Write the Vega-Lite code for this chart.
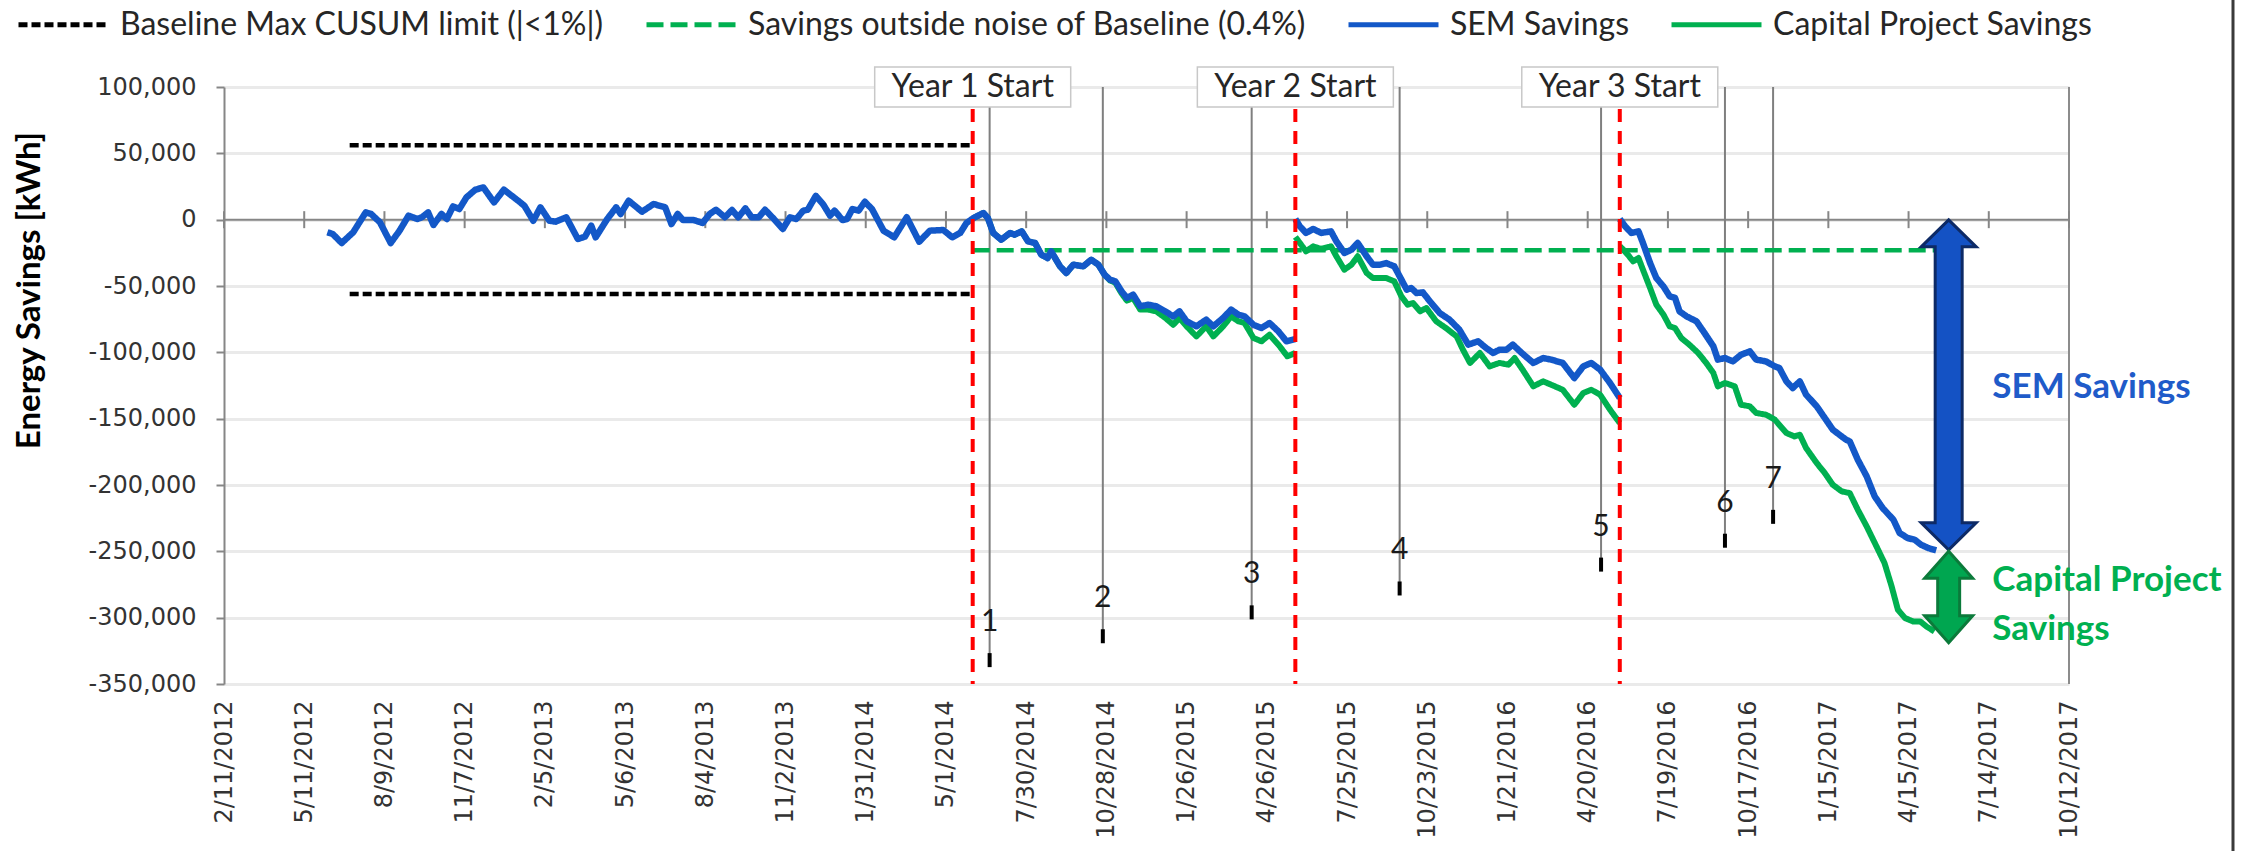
{
  "$schema": "https://vega.github.io/schema/vega-lite/v6.json",
  "width": 1845,
  "height": 597,
  "autosize": {"type": "none"},
  "padding": {"left": 224, "top": 87, "right": 180, "bottom": 167},
  "background": "white",
  "config": {
    "view": {"stroke": null},
    "font": "Lato",
    "legend": {
      "symbolType": "stroke",
      "symbolSize": 8100,
      "symbolStrokeWidth": 5,
      "labelFont": "Lato",
      "labelFontSize": 32,
      "labelColor": "#262626",
      "labelOffset": 9,
      "columnPadding": 32,
      "labelLimit": 1000,
      "padding": 0
    }
  },
  "datasets": {
    "curves": [
      {"date":"2012-06-06","v":-9500,"series":"SEM Savings","seg":"b1"},
      {"date":"2012-06-12","v":-10800,"series":"SEM Savings","seg":"b1"},
      {"date":"2012-06-22","v":-17600,"series":"SEM Savings","seg":"b1"},
      {"date":"2012-07-05","v":-9500,"series":"SEM Savings","seg":"b1"},
      {"date":"2012-07-19","v":5500,"series":"SEM Savings","seg":"b1"},
      {"date":"2012-07-25","v":4300,"series":"SEM Savings","seg":"b1"},
      {"date":"2012-08-04","v":-2000,"series":"SEM Savings","seg":"b1"},
      {"date":"2012-08-16","v":-17600,"series":"SEM Savings","seg":"b1"},
      {"date":"2012-08-26","v":-8300,"series":"SEM Savings","seg":"b1"},
      {"date":"2012-09-05","v":3000,"series":"SEM Savings","seg":"b1"},
      {"date":"2012-09-15","v":500,"series":"SEM Savings","seg":"b1"},
      {"date":"2012-09-20","v":1800,"series":"SEM Savings","seg":"b1"},
      {"date":"2012-09-27","v":5500,"series":"SEM Savings","seg":"b1"},
      {"date":"2012-10-03","v":-4000,"series":"SEM Savings","seg":"b1"},
      {"date":"2012-10-12","v":4300,"series":"SEM Savings","seg":"b1"},
      {"date":"2012-10-18","v":500,"series":"SEM Savings","seg":"b1"},
      {"date":"2012-10-25","v":10000,"series":"SEM Savings","seg":"b1"},
      {"date":"2012-11-01","v":8000,"series":"SEM Savings","seg":"b1"},
      {"date":"2012-11-09","v":16800,"series":"SEM Savings","seg":"b1"},
      {"date":"2012-11-19","v":22600,"series":"SEM Savings","seg":"b1"},
      {"date":"2012-11-28","v":24300,"series":"SEM Savings","seg":"b1"},
      {"date":"2012-12-10","v":13000,"series":"SEM Savings","seg":"b1"},
      {"date":"2012-12-21","v":22600,"series":"SEM Savings","seg":"b1"},
      {"date":"2013-01-06","v":14300,"series":"SEM Savings","seg":"b1"},
      {"date":"2013-01-13","v":10500,"series":"SEM Savings","seg":"b1"},
      {"date":"2013-01-23","v":-800,"series":"SEM Savings","seg":"b1"},
      {"date":"2013-01-31","v":9300,"series":"SEM Savings","seg":"b1"},
      {"date":"2013-02-10","v":-800,"series":"SEM Savings","seg":"b1"},
      {"date":"2013-02-17","v":-1500,"series":"SEM Savings","seg":"b1"},
      {"date":"2013-03-01","v":1800,"series":"SEM Savings","seg":"b1"},
      {"date":"2013-03-14","v":-14600,"series":"SEM Savings","seg":"b1"},
      {"date":"2013-03-22","v":-12800,"series":"SEM Savings","seg":"b1"},
      {"date":"2013-03-29","v":-4500,"series":"SEM Savings","seg":"b1"},
      {"date":"2013-04-03","v":-13300,"series":"SEM Savings","seg":"b1"},
      {"date":"2013-04-16","v":500,"series":"SEM Savings","seg":"b1"},
      {"date":"2013-04-26","v":9300,"series":"SEM Savings","seg":"b1"},
      {"date":"2013-05-01","v":4300,"series":"SEM Savings","seg":"b1"},
      {"date":"2013-05-10","v":14300,"series":"SEM Savings","seg":"b1"},
      {"date":"2013-05-25","v":6000,"series":"SEM Savings","seg":"b1"},
      {"date":"2013-06-07","v":11800,"series":"SEM Savings","seg":"b1"},
      {"date":"2013-06-20","v":9300,"series":"SEM Savings","seg":"b1"},
      {"date":"2013-06-27","v":-3300,"series":"SEM Savings","seg":"b1"},
      {"date":"2013-07-04","v":4300,"series":"SEM Savings","seg":"b1"},
      {"date":"2013-07-10","v":-300,"series":"SEM Savings","seg":"b1"},
      {"date":"2013-07-22","v":-300,"series":"SEM Savings","seg":"b1"},
      {"date":"2013-08-01","v":-2500,"series":"SEM Savings","seg":"b1"},
      {"date":"2013-08-09","v":4300,"series":"SEM Savings","seg":"b1"},
      {"date":"2013-08-16","v":7500,"series":"SEM Savings","seg":"b1"},
      {"date":"2013-08-26","v":1800,"series":"SEM Savings","seg":"b1"},
      {"date":"2013-09-03","v":7300,"series":"SEM Savings","seg":"b1"},
      {"date":"2013-09-10","v":1800,"series":"SEM Savings","seg":"b1"},
      {"date":"2013-09-18","v":8500,"series":"SEM Savings","seg":"b1"},
      {"date":"2013-09-25","v":1800,"series":"SEM Savings","seg":"b1"},
      {"date":"2013-10-03","v":1800,"series":"SEM Savings","seg":"b1"},
      {"date":"2013-10-10","v":7500,"series":"SEM Savings","seg":"b1"},
      {"date":"2013-10-20","v":500,"series":"SEM Savings","seg":"b1"},
      {"date":"2013-10-30","v":-7000,"series":"SEM Savings","seg":"b1"},
      {"date":"2013-11-07","v":1800,"series":"SEM Savings","seg":"b1"},
      {"date":"2013-11-14","v":500,"series":"SEM Savings","seg":"b1"},
      {"date":"2013-11-22","v":6800,"series":"SEM Savings","seg":"b1"},
      {"date":"2013-11-27","v":7500,"series":"SEM Savings","seg":"b1"},
      {"date":"2013-12-06","v":18000,"series":"SEM Savings","seg":"b1"},
      {"date":"2013-12-14","v":11800,"series":"SEM Savings","seg":"b1"},
      {"date":"2013-12-22","v":3000,"series":"SEM Savings","seg":"b1"},
      {"date":"2013-12-27","v":6800,"series":"SEM Savings","seg":"b1"},
      {"date":"2014-01-05","v":-300,"series":"SEM Savings","seg":"b1"},
      {"date":"2014-01-10","v":500,"series":"SEM Savings","seg":"b1"},
      {"date":"2014-01-16","v":8000,"series":"SEM Savings","seg":"b1"},
      {"date":"2014-01-23","v":6800,"series":"SEM Savings","seg":"b1"},
      {"date":"2014-01-30","v":13500,"series":"SEM Savings","seg":"b1"},
      {"date":"2014-02-07","v":8000,"series":"SEM Savings","seg":"b1"},
      {"date":"2014-02-20","v":-8300,"series":"SEM Savings","seg":"b1"},
      {"date":"2014-03-04","v":-13300,"series":"SEM Savings","seg":"b1"},
      {"date":"2014-03-18","v":1800,"series":"SEM Savings","seg":"b1"},
      {"date":"2014-04-01","v":-16600,"series":"SEM Savings","seg":"b1"},
      {"date":"2014-04-13","v":-8300,"series":"SEM Savings","seg":"b1"},
      {"date":"2014-04-28","v":-7800,"series":"SEM Savings","seg":"b1"},
      {"date":"2014-05-08","v":-13300,"series":"SEM Savings","seg":"b1"},
      {"date":"2014-05-17","v":-10000,"series":"SEM Savings","seg":"b1"},
      {"date":"2014-05-24","v":-2500,"series":"SEM Savings","seg":"b1"},
      {"date":"2014-06-01","v":1300,"series":"SEM Savings","seg":"b1"},
      {"date":"2014-06-12","v":5000,"series":"SEM Savings","seg":"b1"},
      {"date":"2014-06-17","v":1300,"series":"SEM Savings","seg":"b1"},
      {"date":"2014-06-23","v":-10000,"series":"SEM Savings","seg":"b1"},
      {"date":"2014-07-02","v":-15100,"series":"SEM Savings","seg":"b1"},
      {"date":"2014-07-12","v":-10000,"series":"SEM Savings","seg":"b1"},
      {"date":"2014-07-17","v":-11300,"series":"SEM Savings","seg":"b1"},
      {"date":"2014-07-25","v":-8800,"series":"SEM Savings","seg":"b1"},
      {"date":"2014-08-01","v":-16300,"series":"SEM Savings","seg":"b1"},
      {"date":"2014-08-09","v":-17600,"series":"SEM Savings","seg":"b1"},
      {"date":"2014-08-16","v":-26400,"series":"SEM Savings","seg":"b1"},
      {"date":"2014-08-23","v":-28900,"series":"SEM Savings","seg":"b1"},
      {"date":"2014-08-27","v":-23900,"series":"SEM Savings","seg":"b1"},
      {"date":"2014-09-06","v":-35200,"series":"SEM Savings","seg":"b1"},
      {"date":"2014-09-13","v":-40200,"series":"SEM Savings","seg":"b1"},
      {"date":"2014-09-21","v":-33900,"series":"SEM Savings","seg":"b1"},
      {"date":"2014-10-02","v":-35200,"series":"SEM Savings","seg":"b1"},
      {"date":"2014-10-11","v":-30200,"series":"SEM Savings","seg":"b1"},
      {"date":"2014-10-19","v":-33900,"series":"SEM Savings","seg":"b1"},
      {"date":"2014-10-26","v":-41500,"series":"SEM Savings","seg":"b1"},
      {"date":"2014-11-01","v":-45200,"series":"SEM Savings","seg":"b1"},
      {"date":"2014-11-07","v":-46500,"series":"SEM Savings","seg":"b1"},
      {"date":"2014-11-14","v":-54000,"series":"SEM Savings","seg":"b1"},
      {"date":"2014-11-20","v":-59000,"series":"SEM Savings","seg":"b1"},
      {"date":"2014-11-27","v":-56500,"series":"SEM Savings","seg":"b1"},
      {"date":"2014-12-05","v":-65300,"series":"SEM Savings","seg":"b1"},
      {"date":"2014-12-14","v":-64100,"series":"SEM Savings","seg":"b1"},
      {"date":"2014-12-23","v":-65300,"series":"SEM Savings","seg":"b1"},
      {"date":"2015-01-02","v":-69100,"series":"SEM Savings","seg":"b1"},
      {"date":"2015-01-11","v":-72900,"series":"SEM Savings","seg":"b1"},
      {"date":"2015-01-18","v":-69100,"series":"SEM Savings","seg":"b1"},
      {"date":"2015-01-26","v":-76600,"series":"SEM Savings","seg":"b1"},
      {"date":"2015-02-06","v":-80400,"series":"SEM Savings","seg":"b1"},
      {"date":"2015-02-17","v":-75400,"series":"SEM Savings","seg":"b1"},
      {"date":"2015-02-25","v":-80400,"series":"SEM Savings","seg":"b1"},
      {"date":"2015-03-08","v":-74100,"series":"SEM Savings","seg":"b1"},
      {"date":"2015-03-17","v":-67800,"series":"SEM Savings","seg":"b1"},
      {"date":"2015-03-25","v":-71600,"series":"SEM Savings","seg":"b1"},
      {"date":"2015-04-01","v":-72900,"series":"SEM Savings","seg":"b1"},
      {"date":"2015-04-11","v":-79200,"series":"SEM Savings","seg":"b1"},
      {"date":"2015-04-20","v":-81700,"series":"SEM Savings","seg":"b1"},
      {"date":"2015-04-29","v":-77900,"series":"SEM Savings","seg":"b1"},
      {"date":"2015-05-09","v":-84200,"series":"SEM Savings","seg":"b1"},
      {"date":"2015-05-18","v":-91700,"series":"SEM Savings","seg":"b1"},
      {"date":"2015-05-28","v":-90000,"series":"SEM Savings","seg":"b1"},
      {"date":"2015-05-28","v":500,"series":"SEM Savings","seg":"b2"},
      {"date":"2015-06-02","v":-5000,"series":"SEM Savings","seg":"b2"},
      {"date":"2015-06-09","v":-10000,"series":"SEM Savings","seg":"b2"},
      {"date":"2015-06-17","v":-7000,"series":"SEM Savings","seg":"b2"},
      {"date":"2015-06-26","v":-10000,"series":"SEM Savings","seg":"b2"},
      {"date":"2015-07-07","v":-8800,"series":"SEM Savings","seg":"b2"},
      {"date":"2015-07-13","v":-16300,"series":"SEM Savings","seg":"b2"},
      {"date":"2015-07-22","v":-25100,"series":"SEM Savings","seg":"b2"},
      {"date":"2015-07-30","v":-22600,"series":"SEM Savings","seg":"b2"},
      {"date":"2015-08-06","v":-17600,"series":"SEM Savings","seg":"b2"},
      {"date":"2015-08-16","v":-27600,"series":"SEM Savings","seg":"b2"},
      {"date":"2015-08-23","v":-33900,"series":"SEM Savings","seg":"b2"},
      {"date":"2015-08-31","v":-33900,"series":"SEM Savings","seg":"b2"},
      {"date":"2015-09-07","v":-32700,"series":"SEM Savings","seg":"b2"},
      {"date":"2015-09-16","v":-35200,"series":"SEM Savings","seg":"b2"},
      {"date":"2015-09-24","v":-45200,"series":"SEM Savings","seg":"b2"},
      {"date":"2015-09-30","v":-52800,"series":"SEM Savings","seg":"b2"},
      {"date":"2015-10-05","v":-51500,"series":"SEM Savings","seg":"b2"},
      {"date":"2015-10-11","v":-55300,"series":"SEM Savings","seg":"b2"},
      {"date":"2015-10-18","v":-54800,"series":"SEM Savings","seg":"b2"},
      {"date":"2015-10-26","v":-61600,"series":"SEM Savings","seg":"b2"},
      {"date":"2015-11-06","v":-70400,"series":"SEM Savings","seg":"b2"},
      {"date":"2015-11-17","v":-75400,"series":"SEM Savings","seg":"b2"},
      {"date":"2015-11-28","v":-82900,"series":"SEM Savings","seg":"b2"},
      {"date":"2015-12-08","v":-94200,"series":"SEM Savings","seg":"b2"},
      {"date":"2015-12-19","v":-91700,"series":"SEM Savings","seg":"b2"},
      {"date":"2015-12-28","v":-96700,"series":"SEM Savings","seg":"b2"},
      {"date":"2016-01-05","v":-100500,"series":"SEM Savings","seg":"b2"},
      {"date":"2016-01-12","v":-98000,"series":"SEM Savings","seg":"b2"},
      {"date":"2016-01-20","v":-98000,"series":"SEM Savings","seg":"b2"},
      {"date":"2016-01-27","v":-94200,"series":"SEM Savings","seg":"b2"},
      {"date":"2016-02-06","v":-100500,"series":"SEM Savings","seg":"b2"},
      {"date":"2016-02-19","v":-108000,"series":"SEM Savings","seg":"b2"},
      {"date":"2016-03-01","v":-104300,"series":"SEM Savings","seg":"b2"},
      {"date":"2016-03-10","v":-105500,"series":"SEM Savings","seg":"b2"},
      {"date":"2016-03-23","v":-108000,"series":"SEM Savings","seg":"b2"},
      {"date":"2016-04-05","v":-119400,"series":"SEM Savings","seg":"b2"},
      {"date":"2016-04-15","v":-110600,"series":"SEM Savings","seg":"b2"},
      {"date":"2016-04-24","v":-108000,"series":"SEM Savings","seg":"b2"},
      {"date":"2016-05-04","v":-113100,"series":"SEM Savings","seg":"b2"},
      {"date":"2016-05-15","v":-123100,"series":"SEM Savings","seg":"b2"},
      {"date":"2016-05-26","v":-134400,"series":"SEM Savings","seg":"b2"},
      {"date":"2016-05-26","v":500,"series":"SEM Savings","seg":"b3"},
      {"date":"2016-06-01","v":-5000,"series":"SEM Savings","seg":"b3"},
      {"date":"2016-06-08","v":-10000,"series":"SEM Savings","seg":"b3"},
      {"date":"2016-06-16","v":-8800,"series":"SEM Savings","seg":"b3"},
      {"date":"2016-06-21","v":-17600,"series":"SEM Savings","seg":"b3"},
      {"date":"2016-06-29","v":-32700,"series":"SEM Savings","seg":"b3"},
      {"date":"2016-07-06","v":-44000,"series":"SEM Savings","seg":"b3"},
      {"date":"2016-07-14","v":-50300,"series":"SEM Savings","seg":"b3"},
      {"date":"2016-07-21","v":-57800,"series":"SEM Savings","seg":"b3"},
      {"date":"2016-07-27","v":-59000,"series":"SEM Savings","seg":"b3"},
      {"date":"2016-08-01","v":-69100,"series":"SEM Savings","seg":"b3"},
      {"date":"2016-08-09","v":-72900,"series":"SEM Savings","seg":"b3"},
      {"date":"2016-08-20","v":-76600,"series":"SEM Savings","seg":"b3"},
      {"date":"2016-08-29","v":-85400,"series":"SEM Savings","seg":"b3"},
      {"date":"2016-09-08","v":-95500,"series":"SEM Savings","seg":"b3"},
      {"date":"2016-09-13","v":-105500,"series":"SEM Savings","seg":"b3"},
      {"date":"2016-09-21","v":-104300,"series":"SEM Savings","seg":"b3"},
      {"date":"2016-09-30","v":-106800,"series":"SEM Savings","seg":"b3"},
      {"date":"2016-10-09","v":-101800,"series":"SEM Savings","seg":"b3"},
      {"date":"2016-10-19","v":-99300,"series":"SEM Savings","seg":"b3"},
      {"date":"2016-10-26","v":-105500,"series":"SEM Savings","seg":"b3"},
      {"date":"2016-11-06","v":-106800,"series":"SEM Savings","seg":"b3"},
      {"date":"2016-11-16","v":-110600,"series":"SEM Savings","seg":"b3"},
      {"date":"2016-11-21","v":-111800,"series":"SEM Savings","seg":"b3"},
      {"date":"2016-11-29","v":-121900,"series":"SEM Savings","seg":"b3"},
      {"date":"2016-12-06","v":-126900,"series":"SEM Savings","seg":"b3"},
      {"date":"2016-12-14","v":-121900,"series":"SEM Savings","seg":"b3"},
      {"date":"2016-12-21","v":-131900,"series":"SEM Savings","seg":"b3"},
      {"date":"2017-01-02","v":-140700,"series":"SEM Savings","seg":"b3"},
      {"date":"2017-01-11","v":-149500,"series":"SEM Savings","seg":"b3"},
      {"date":"2017-01-20","v":-158300,"series":"SEM Savings","seg":"b3"},
      {"date":"2017-01-30","v":-163400,"series":"SEM Savings","seg":"b3"},
      {"date":"2017-02-04","v":-165900,"series":"SEM Savings","seg":"b3"},
      {"date":"2017-02-08","v":-167100,"series":"SEM Savings","seg":"b3"},
      {"date":"2017-02-17","v":-180900,"series":"SEM Savings","seg":"b3"},
      {"date":"2017-02-27","v":-193500,"series":"SEM Savings","seg":"b3"},
      {"date":"2017-03-08","v":-208600,"series":"SEM Savings","seg":"b3"},
      {"date":"2017-03-17","v":-217400,"series":"SEM Savings","seg":"b3"},
      {"date":"2017-03-29","v":-226200,"series":"SEM Savings","seg":"b3"},
      {"date":"2017-04-05","v":-236200,"series":"SEM Savings","seg":"b3"},
      {"date":"2017-04-14","v":-240000,"series":"SEM Savings","seg":"b3"},
      {"date":"2017-04-22","v":-241300,"series":"SEM Savings","seg":"b3"},
      {"date":"2017-04-29","v":-245000,"series":"SEM Savings","seg":"b3"},
      {"date":"2017-05-07","v":-247500,"series":"SEM Savings","seg":"b3"},
      {"date":"2017-05-16","v":-249300,"series":"SEM Savings","seg":"b3"},
      {"date":"2014-06-01","v":1300,"series":"Capital Project Savings","seg":"g1"},
      {"date":"2014-06-12","v":5000,"series":"Capital Project Savings","seg":"g1"},
      {"date":"2014-06-17","v":1300,"series":"Capital Project Savings","seg":"g1"},
      {"date":"2014-06-23","v":-10000,"series":"Capital Project Savings","seg":"g1"},
      {"date":"2014-07-02","v":-15100,"series":"Capital Project Savings","seg":"g1"},
      {"date":"2014-07-12","v":-10000,"series":"Capital Project Savings","seg":"g1"},
      {"date":"2014-07-17","v":-11300,"series":"Capital Project Savings","seg":"g1"},
      {"date":"2014-07-25","v":-8800,"series":"Capital Project Savings","seg":"g1"},
      {"date":"2014-08-01","v":-16300,"series":"Capital Project Savings","seg":"g1"},
      {"date":"2014-08-09","v":-17600,"series":"Capital Project Savings","seg":"g1"},
      {"date":"2014-08-16","v":-26400,"series":"Capital Project Savings","seg":"g1"},
      {"date":"2014-08-23","v":-28900,"series":"Capital Project Savings","seg":"g1"},
      {"date":"2014-08-27","v":-23900,"series":"Capital Project Savings","seg":"g1"},
      {"date":"2014-09-06","v":-35200,"series":"Capital Project Savings","seg":"g1"},
      {"date":"2014-09-13","v":-40200,"series":"Capital Project Savings","seg":"g1"},
      {"date":"2014-09-21","v":-33900,"series":"Capital Project Savings","seg":"g1"},
      {"date":"2014-10-02","v":-35200,"series":"Capital Project Savings","seg":"g1"},
      {"date":"2014-10-11","v":-30200,"series":"Capital Project Savings","seg":"g1"},
      {"date":"2014-10-19","v":-33900,"series":"Capital Project Savings","seg":"g1"},
      {"date":"2014-10-26","v":-41500,"series":"Capital Project Savings","seg":"g1"},
      {"date":"2014-11-01","v":-45800,"series":"Capital Project Savings","seg":"g1"},
      {"date":"2014-11-07","v":-47500,"series":"Capital Project Savings","seg":"g1"},
      {"date":"2014-11-14","v":-55500,"series":"Capital Project Savings","seg":"g1"},
      {"date":"2014-11-20","v":-61000,"series":"Capital Project Savings","seg":"g1"},
      {"date":"2014-11-27","v":-59000,"series":"Capital Project Savings","seg":"g1"},
      {"date":"2014-12-05","v":-67800,"series":"Capital Project Savings","seg":"g1"},
      {"date":"2014-12-14","v":-67800,"series":"Capital Project Savings","seg":"g1"},
      {"date":"2014-12-23","v":-69100,"series":"Capital Project Savings","seg":"g1"},
      {"date":"2015-01-02","v":-74000,"series":"Capital Project Savings","seg":"g1"},
      {"date":"2015-01-11","v":-79200,"series":"Capital Project Savings","seg":"g1"},
      {"date":"2015-01-18","v":-74100,"series":"Capital Project Savings","seg":"g1"},
      {"date":"2015-01-26","v":-80400,"series":"Capital Project Savings","seg":"g1"},
      {"date":"2015-02-06","v":-88000,"series":"Capital Project Savings","seg":"g1"},
      {"date":"2015-02-17","v":-80400,"series":"Capital Project Savings","seg":"g1"},
      {"date":"2015-02-25","v":-88000,"series":"Capital Project Savings","seg":"g1"},
      {"date":"2015-03-08","v":-80400,"series":"Capital Project Savings","seg":"g1"},
      {"date":"2015-03-17","v":-72900,"series":"Capital Project Savings","seg":"g1"},
      {"date":"2015-03-25","v":-76600,"series":"Capital Project Savings","seg":"g1"},
      {"date":"2015-04-01","v":-77900,"series":"Capital Project Savings","seg":"g1"},
      {"date":"2015-04-11","v":-89200,"series":"Capital Project Savings","seg":"g1"},
      {"date":"2015-04-20","v":-91700,"series":"Capital Project Savings","seg":"g1"},
      {"date":"2015-04-29","v":-86700,"series":"Capital Project Savings","seg":"g1"},
      {"date":"2015-05-09","v":-94200,"series":"Capital Project Savings","seg":"g1"},
      {"date":"2015-05-19","v":-103000,"series":"Capital Project Savings","seg":"g1"},
      {"date":"2015-05-28","v":-100500,"series":"Capital Project Savings","seg":"g1"},
      {"date":"2015-05-28","v":-13000,"series":"Capital Project Savings","seg":"g2"},
      {"date":"2015-06-09","v":-23900,"series":"Capital Project Savings","seg":"g2"},
      {"date":"2015-06-17","v":-20100,"series":"Capital Project Savings","seg":"g2"},
      {"date":"2015-06-26","v":-22100,"series":"Capital Project Savings","seg":"g2"},
      {"date":"2015-07-07","v":-20100,"series":"Capital Project Savings","seg":"g2"},
      {"date":"2015-07-13","v":-27600,"series":"Capital Project Savings","seg":"g2"},
      {"date":"2015-07-22","v":-37700,"series":"Capital Project Savings","seg":"g2"},
      {"date":"2015-07-30","v":-33900,"series":"Capital Project Savings","seg":"g2"},
      {"date":"2015-08-06","v":-27600,"series":"Capital Project Savings","seg":"g2"},
      {"date":"2015-08-16","v":-40200,"series":"Capital Project Savings","seg":"g2"},
      {"date":"2015-08-23","v":-44000,"series":"Capital Project Savings","seg":"g2"},
      {"date":"2015-09-07","v":-44000,"series":"Capital Project Savings","seg":"g2"},
      {"date":"2015-09-16","v":-46500,"series":"Capital Project Savings","seg":"g2"},
      {"date":"2015-09-24","v":-57800,"series":"Capital Project Savings","seg":"g2"},
      {"date":"2015-10-01","v":-64100,"series":"Capital Project Savings","seg":"g2"},
      {"date":"2015-10-07","v":-62800,"series":"Capital Project Savings","seg":"g2"},
      {"date":"2015-10-15","v":-69100,"series":"Capital Project Savings","seg":"g2"},
      {"date":"2015-10-22","v":-66600,"series":"Capital Project Savings","seg":"g2"},
      {"date":"2015-11-02","v":-76600,"series":"Capital Project Savings","seg":"g2"},
      {"date":"2015-11-13","v":-81700,"series":"Capital Project Savings","seg":"g2"},
      {"date":"2015-11-25","v":-88000,"series":"Capital Project Savings","seg":"g2"},
      {"date":"2015-12-02","v":-98000,"series":"Capital Project Savings","seg":"g2"},
      {"date":"2015-12-10","v":-108000,"series":"Capital Project Savings","seg":"g2"},
      {"date":"2015-12-21","v":-100500,"series":"Capital Project Savings","seg":"g2"},
      {"date":"2016-01-01","v":-110600,"series":"Capital Project Savings","seg":"g2"},
      {"date":"2016-01-12","v":-108000,"series":"Capital Project Savings","seg":"g2"},
      {"date":"2016-01-22","v":-109300,"series":"Capital Project Savings","seg":"g2"},
      {"date":"2016-01-29","v":-104300,"series":"Capital Project Savings","seg":"g2"},
      {"date":"2016-02-07","v":-113100,"series":"Capital Project Savings","seg":"g2"},
      {"date":"2016-02-19","v":-125600,"series":"Capital Project Savings","seg":"g2"},
      {"date":"2016-03-01","v":-121900,"series":"Capital Project Savings","seg":"g2"},
      {"date":"2016-03-10","v":-124400,"series":"Capital Project Savings","seg":"g2"},
      {"date":"2016-03-23","v":-128200,"series":"Capital Project Savings","seg":"g2"},
      {"date":"2016-04-05","v":-139500,"series":"Capital Project Savings","seg":"g2"},
      {"date":"2016-04-15","v":-130700,"series":"Capital Project Savings","seg":"g2"},
      {"date":"2016-04-24","v":-128200,"series":"Capital Project Savings","seg":"g2"},
      {"date":"2016-05-04","v":-132000,"series":"Capital Project Savings","seg":"g2"},
      {"date":"2016-05-15","v":-143200,"series":"Capital Project Savings","seg":"g2"},
      {"date":"2016-05-26","v":-153300,"series":"Capital Project Savings","seg":"g2"},
      {"date":"2016-05-26","v":-20000,"series":"Capital Project Savings","seg":"g3"},
      {"date":"2016-05-30","v":-22600,"series":"Capital Project Savings","seg":"g3"},
      {"date":"2016-06-04","v":-26400,"series":"Capital Project Savings","seg":"g3"},
      {"date":"2016-06-10","v":-31400,"series":"Capital Project Savings","seg":"g3"},
      {"date":"2016-06-16","v":-28900,"series":"Capital Project Savings","seg":"g3"},
      {"date":"2016-06-21","v":-37700,"series":"Capital Project Savings","seg":"g3"},
      {"date":"2016-06-29","v":-51500,"series":"Capital Project Savings","seg":"g3"},
      {"date":"2016-07-06","v":-64100,"series":"Capital Project Savings","seg":"g3"},
      {"date":"2016-07-14","v":-71600,"series":"Capital Project Savings","seg":"g3"},
      {"date":"2016-07-21","v":-80400,"series":"Capital Project Savings","seg":"g3"},
      {"date":"2016-07-27","v":-81700,"series":"Capital Project Savings","seg":"g3"},
      {"date":"2016-08-03","v":-89200,"series":"Capital Project Savings","seg":"g3"},
      {"date":"2016-08-12","v":-94200,"series":"Capital Project Savings","seg":"g3"},
      {"date":"2016-08-22","v":-100500,"series":"Capital Project Savings","seg":"g3"},
      {"date":"2016-08-31","v":-108000,"series":"Capital Project Savings","seg":"g3"},
      {"date":"2016-09-08","v":-115600,"series":"Capital Project Savings","seg":"g3"},
      {"date":"2016-09-13","v":-125600,"series":"Capital Project Savings","seg":"g3"},
      {"date":"2016-09-21","v":-123100,"series":"Capital Project Savings","seg":"g3"},
      {"date":"2016-10-02","v":-125600,"series":"Capital Project Savings","seg":"g3"},
      {"date":"2016-10-09","v":-139500,"series":"Capital Project Savings","seg":"g3"},
      {"date":"2016-10-19","v":-140700,"series":"Capital Project Savings","seg":"g3"},
      {"date":"2016-10-26","v":-145700,"series":"Capital Project Savings","seg":"g3"},
      {"date":"2016-11-06","v":-147000,"series":"Capital Project Savings","seg":"g3"},
      {"date":"2016-11-16","v":-150800,"series":"Capital Project Savings","seg":"g3"},
      {"date":"2016-11-29","v":-160800,"series":"Capital Project Savings","seg":"g3"},
      {"date":"2016-12-08","v":-163400,"series":"Capital Project Savings","seg":"g3"},
      {"date":"2016-12-14","v":-162100,"series":"Capital Project Savings","seg":"g3"},
      {"date":"2016-12-21","v":-172100,"series":"Capital Project Savings","seg":"g3"},
      {"date":"2017-01-02","v":-183500,"series":"Capital Project Savings","seg":"g3"},
      {"date":"2017-01-11","v":-191000,"series":"Capital Project Savings","seg":"g3"},
      {"date":"2017-01-20","v":-199800,"series":"Capital Project Savings","seg":"g3"},
      {"date":"2017-01-30","v":-204800,"series":"Capital Project Savings","seg":"g3"},
      {"date":"2017-02-08","v":-206100,"series":"Capital Project Savings","seg":"g3"},
      {"date":"2017-02-17","v":-218600,"series":"Capital Project Savings","seg":"g3"},
      {"date":"2017-02-27","v":-231200,"series":"Capital Project Savings","seg":"g3"},
      {"date":"2017-03-10","v":-246300,"series":"Capital Project Savings","seg":"g3"},
      {"date":"2017-03-19","v":-258800,"series":"Capital Project Savings","seg":"g3"},
      {"date":"2017-03-27","v":-276400,"series":"Capital Project Savings","seg":"g3"},
      {"date":"2017-04-03","v":-294000,"series":"Capital Project Savings","seg":"g3"},
      {"date":"2017-04-11","v":-300300,"series":"Capital Project Savings","seg":"g3"},
      {"date":"2017-04-20","v":-302800,"series":"Capital Project Savings","seg":"g3"},
      {"date":"2017-04-28","v":-302800,"series":"Capital Project Savings","seg":"g3"},
      {"date":"2017-05-05","v":-306600,"series":"Capital Project Savings","seg":"g3"},
      {"date":"2017-05-14","v":-310400,"series":"Capital Project Savings","seg":"g3"}
    ],
    "limits": [
      {"date":"2012-07-01","end":"2014-05-31","v":56000,"series":"Baseline Max CUSUM limit (|<1%|)"},
      {"date":"2012-07-01","end":"2014-05-31","v":-56000,"series":"Baseline Max CUSUM limit (|<1%|)"},
      {"date":"2014-05-31","end":"2017-05-30","v":-23000,"series":"Savings outside noise of Baseline (0.4%)"}
    ],
    "years": [
      {"date":"2014-05-31","v":100000,"label":"Year 1 Start"},
      {"date":"2015-05-28","v":100000,"label":"Year 2 Start"},
      {"date":"2016-05-26","v":100000,"label":"Year 3 Start"}
    ],
    "events": [
      {"date":"2014-06-19","v":-332000,"n":"1"},
      {"date":"2014-10-24","v":-314000,"n":"2"},
      {"date":"2015-04-09","v":-296000,"n":"3"},
      {"date":"2015-09-22","v":-278000,"n":"4"},
      {"date":"2016-05-05","v":-260000,"n":"5"},
      {"date":"2016-09-21","v":-242000,"n":"6"},
      {"date":"2016-11-14","v":-224000,"n":"7"}
    ],
    "ticks": [
      {"date":"2012-02-11","v":0},{"date":"2012-05-11","v":0},{"date":"2012-08-09","v":0},{"date":"2012-11-07","v":0},
      {"date":"2013-02-05","v":0},{"date":"2013-05-06","v":0},{"date":"2013-08-04","v":0},{"date":"2013-11-02","v":0},
      {"date":"2014-01-31","v":0},{"date":"2014-05-01","v":0},{"date":"2014-07-30","v":0},{"date":"2014-10-28","v":0},
      {"date":"2015-01-26","v":0},{"date":"2015-04-26","v":0},{"date":"2015-07-25","v":0},{"date":"2015-10-23","v":0},
      {"date":"2016-01-21","v":0},{"date":"2016-04-20","v":0},{"date":"2016-07-19","v":0},{"date":"2016-10-17","v":0},
      {"date":"2017-01-15","v":0},{"date":"2017-04-15","v":0},{"date":"2017-07-14","v":0},{"date":"2017-10-12","v":0}
    ]
  },
  "encoding": {
    "x": {
      "field": "date",
      "type": "temporal",
      "scale": {"type": "utc", "domain": [{"year": 2012, "month": 2, "date": 11, "utc": true}, {"year": 2017, "month": 10, "date": 12, "utc": true}]},
      "axis": {
        "title": null,
        "values": [
          {"year":2012,"month":2,"date":11,"utc":true},{"year":2012,"month":5,"date":11,"utc":true},{"year":2012,"month":8,"date":9,"utc":true},{"year":2012,"month":11,"date":7,"utc":true},
          {"year":2013,"month":2,"date":5,"utc":true},{"year":2013,"month":5,"date":6,"utc":true},{"year":2013,"month":8,"date":4,"utc":true},{"year":2013,"month":11,"date":2,"utc":true},
          {"year":2014,"month":1,"date":31,"utc":true},{"year":2014,"month":5,"date":1,"utc":true},{"year":2014,"month":7,"date":30,"utc":true},{"year":2014,"month":10,"date":28,"utc":true},
          {"year":2015,"month":1,"date":26,"utc":true},{"year":2015,"month":4,"date":26,"utc":true},{"year":2015,"month":7,"date":25,"utc":true},{"year":2015,"month":10,"date":23,"utc":true},
          {"year":2016,"month":1,"date":21,"utc":true},{"year":2016,"month":4,"date":20,"utc":true},{"year":2016,"month":7,"date":19,"utc":true},{"year":2016,"month":10,"date":17,"utc":true},
          {"year":2017,"month":1,"date":15,"utc":true},{"year":2017,"month":4,"date":15,"utc":true},{"year":2017,"month":7,"date":14,"utc":true},{"year":2017,"month":10,"date":12,"utc":true}
        ],
        "labelExpr": "utcFormat(datum.value, '%-m/%-d/%Y')",
        "labelAngle": 270,
        "labelAlign": "right",
        "labelBaseline": "middle",
        "labelFont": "DejaVu Sans",
        "labelFontSize": 24,
        "labelColor": "#333333",
        "labelPadding": 16,
        "labelOverlap": false,
        "labelFlush": false,
        "labelBound": false,
        "ticks": false,
        "domain": false,
        "grid": false
      }
    },
    "y": {
      "field": "v",
      "type": "quantitative",
      "scale": {"domain": [-350000, 100000], "nice": false, "zero": false},
      "axis": {
        "title": "Energy Savings [kWh]",
        "values": [-350000, -300000, -250000, -200000, -150000, -100000, -50000, 0, 50000, 100000],
        "labelExpr": "replace(format(datum.value, ',.0f'), '\u2212', '-')",
        "labelFont": "DejaVu Sans",
        "labelFontSize": 24,
        "labelColor": "#333333",
        "labelPadding": 20,
        "tickSize": 8,
        "tickColor": "#868686",
        "tickWidth": 2,
        "domainColor": "#868686",
        "domainWidth": 2,
        "grid": true,
        "gridColor": "#EAEAEA",
        "gridWidth": 3,
        "titleFont": "Lato",
        "titleFontSize": 33,
        "titleFontWeight": "bold",
        "titleColor": "#000000",
        "titleAngle": 270,
        "titleX": -195,
        "titleY": 203,
        "titleAlign": "center",
        "titleBaseline": "middle"
      }
    }
  },
  "layer": [
    {
      "data": {"values": [{"date": "2012-02-11", "end": "2017-10-12", "v": 0}]},
      "mark": {"type": "rule", "color": "#868686", "strokeWidth": 2},
      "encoding": {"x2": {"field": "end"}}
    },
    {
      "data": {"values": [{"date": "2017-10-12", "v": 100000, "v2": -350000}]},
      "mark": {"type": "rule", "color": "#8C8C8C", "strokeWidth": 2},
      "encoding": {"y2": {"field": "v2"}}
    },
    {
      "data": {"values": [{"date": "2018-04-14", "v": 166000, "v2": -476000}]},
      "mark": {"type": "rule", "color": "#3A3A3A", "strokeWidth": 3},
      "encoding": {"y2": {"field": "v2"}}
    },
    {
      "data": {"name": "ticks"},
      "mark": {"type": "tick", "orient": "vertical", "size": 17, "thickness": 2, "color": "#868686", "opacity": 1}
    },
    {
      "data": {"name": "events"},
      "mark": {"type": "rule", "color": "#7F7F7F", "strokeWidth": 2},
      "encoding": {"y2": {"datum": 100000}}
    },
    {
      "data": {"name": "limits"},
      "mark": {"type": "rule", "strokeWidth": 4.5},
      "encoding": {
        "x2": {"field": "end"},
        "color": {"field": "series", "type": "nominal",
          "scale": {"domain": ["Baseline Max CUSUM limit (|<1%|)", "Savings outside noise of Baseline (0.4%)", "SEM Savings", "Capital Project Savings"], "range": ["#000000", "#00B050", "#1358C8", "#00B050"]},
          "legend": {"orient": "none", "legendX": -208, "legendY": -110, "direction": "horizontal", "columns": 4, "title": null}},
        "strokeDash": {"field": "series", "type": "nominal",
          "scale": {"domain": ["Baseline Max CUSUM limit (|<1%|)", "Savings outside noise of Baseline (0.4%)", "SEM Savings", "Capital Project Savings"], "range": [[9, 4], [17, 7], [1, 0], [1, 0]]},
          "legend": {"orient": "none", "legendX": -208, "legendY": -110, "direction": "horizontal", "columns": 4, "title": null}}
      }
    },
    {
      "data": {"name": "curves"},
      "transform": [{"filter": "datum.series === 'Capital Project Savings'"}],
      "mark": {"type": "line", "strokeWidth": 6, "strokeJoin": "round"},
      "encoding": {
        "detail": {"field": "seg"},
        "color": {"field": "series", "type": "nominal",
          "scale": {"domain": ["Baseline Max CUSUM limit (|<1%|)", "Savings outside noise of Baseline (0.4%)", "SEM Savings", "Capital Project Savings"], "range": ["#000000", "#00B050", "#1358C8", "#00B050"]},
          "legend": {"orient": "none", "legendX": -208, "legendY": -110, "direction": "horizontal", "columns": 4, "title": null}},
        "strokeDash": {"field": "series", "type": "nominal",
          "scale": {"domain": ["Baseline Max CUSUM limit (|<1%|)", "Savings outside noise of Baseline (0.4%)", "SEM Savings", "Capital Project Savings"], "range": [[9, 4], [17, 7], [1, 0], [1, 0]]},
          "legend": {"orient": "none", "legendX": -208, "legendY": -110, "direction": "horizontal", "columns": 4, "title": null}}
      }
    },
    {
      "data": {"name": "curves"},
      "transform": [{"filter": "datum.series === 'SEM Savings'"}],
      "mark": {"type": "line", "strokeWidth": 6.5, "strokeJoin": "round"},
      "encoding": {
        "detail": {"field": "seg"},
        "color": {"field": "series", "type": "nominal",
          "scale": {"domain": ["Baseline Max CUSUM limit (|<1%|)", "Savings outside noise of Baseline (0.4%)", "SEM Savings", "Capital Project Savings"], "range": ["#000000", "#00B050", "#1358C8", "#00B050"]},
          "legend": {"orient": "none", "legendX": -208, "legendY": -110, "direction": "horizontal", "columns": 4, "title": null}},
        "strokeDash": {"field": "series", "type": "nominal",
          "scale": {"domain": ["Baseline Max CUSUM limit (|<1%|)", "Savings outside noise of Baseline (0.4%)", "SEM Savings", "Capital Project Savings"], "range": [[9, 4], [17, 7], [1, 0], [1, 0]]},
          "legend": {"orient": "none", "legendX": -208, "legendY": -110, "direction": "horizontal", "columns": 4, "title": null}}
      }
    },
    {
      "data": {"name": "events"},
      "mark": {"type": "tick", "orient": "vertical", "size": 14, "thickness": 4, "color": "#000000", "opacity": 1}
    },
    {
      "data": {"name": "events"},
      "mark": {"type": "text", "font": "Lato", "fontSize": 30, "color": "#1A1A1A", "baseline": "alphabetic", "align": "center", "dy": -29},
      "encoding": {"text": {"field": "n"}}
    },
    {
      "data": {"name": "years"},
      "mark": {"type": "rule", "color": "#FF0000", "strokeWidth": 4, "strokeDash": [13, 9]},
      "encoding": {"y2": {"datum": -350000}}
    },
    {
      "data": {"name": "years"},
      "mark": {"type": "point", "shape": "M-1,-0.204L1,-0.204L1,0.204L-1,0.204Z", "size": 38416, "filled": true, "fill": "#FFFFFF", "stroke": "#C8C8C8", "strokeWidth": 1.5, "opacity": 1}
    },
    {
      "data": {"name": "years"},
      "mark": {"type": "text", "font": "Lato", "fontSize": 32, "color": "#262626", "baseline": "middle", "align": "center"},
      "encoding": {"text": {"field": "label"}}
    },
    {
      "data": {"values": [{"date": "2017-05-30", "v": -124500}]},
      "mark": {"type": "point", "shape": "M0,-1L0.1667,-0.8364L0.0818,-0.8364L0.0818,0.8364L0.1667,0.8364L0,1L-0.1667,0.8364L-0.0818,0.8364L-0.0818,-0.8364L-0.1667,-0.8364Z", "size": 108900, "filled": true, "fill": "#1452C4", "stroke": "#0D2A66", "strokeWidth": 3, "strokeJoin": "miter", "opacity": 1}
    },
    {
      "data": {"values": [{"date": "2017-05-30", "v": -284500}]},
      "mark": {"type": "point", "shape": "M0,-1L0.5246,-0.41L0.24,-0.41L0.24,0.41L0.5246,0.41L0,1L-0.5246,0.41L-0.24,0.41L-0.24,-0.41L-0.5246,-0.41Z", "size": 8372, "filled": true, "fill": "#00A650", "stroke": "#0B7A3A", "strokeWidth": 3, "strokeJoin": "miter", "opacity": 1}
    },
    {
      "data": {"values": [{"date": "2017-07-18", "v": -134500, "text": "SEM Savings"}]},
      "mark": {"type": "text", "font": "Lato", "fontSize": 35, "fontWeight": "bold", "color": "#1F5BC9", "align": "left", "baseline": "alphabetic"},
      "encoding": {"text": {"field": "text"}}
    },
    {
      "data": {"values": [{"date": "2017-07-18", "v": -280000, "text": "Capital Project"}, {"date": "2017-07-18", "v": -316500, "text": "Savings"}]},
      "mark": {"type": "text", "font": "Lato", "fontSize": 35, "fontWeight": "bold", "color": "#00B050", "align": "left", "baseline": "alphabetic"},
      "encoding": {"text": {"field": "text"}}
    }
  ]
}
